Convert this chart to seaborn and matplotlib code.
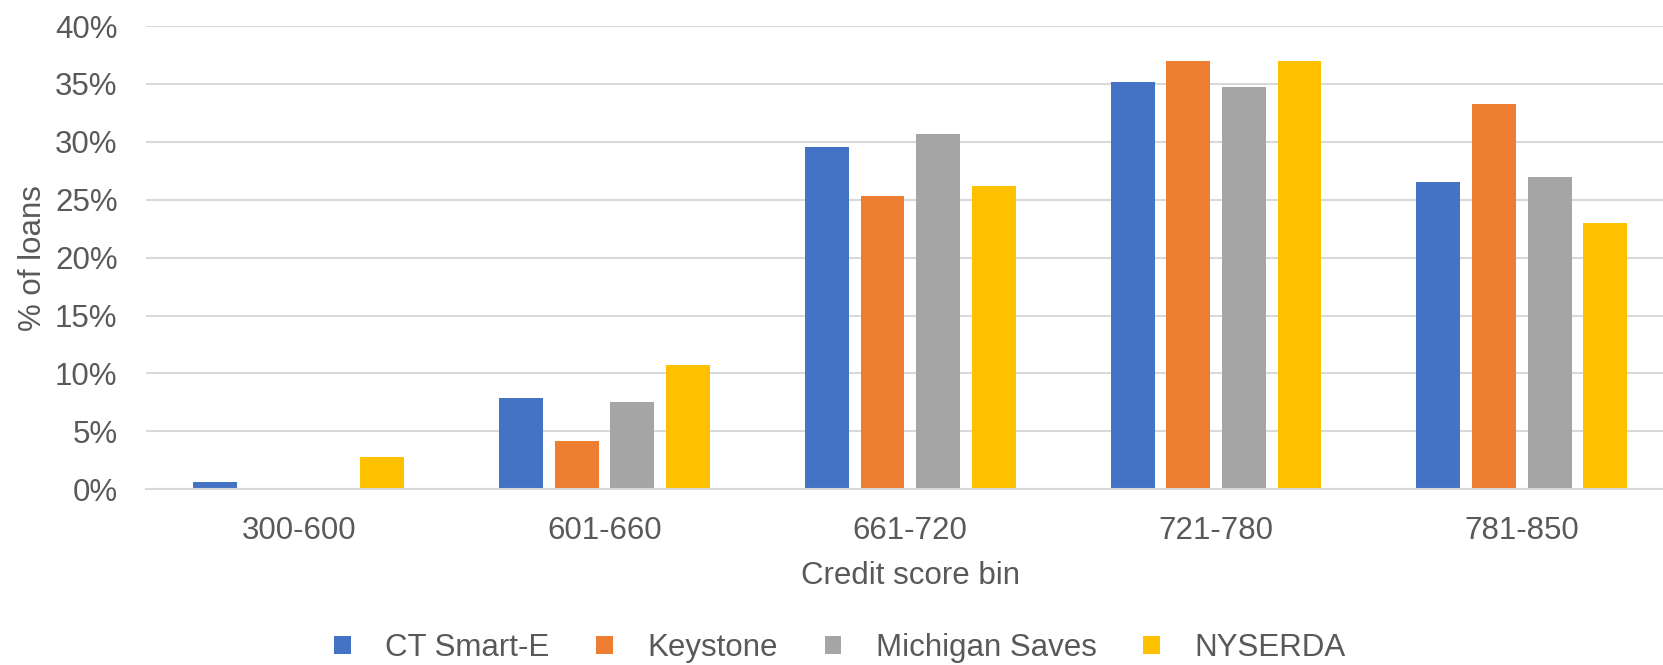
import matplotlib
matplotlib.use("Agg")
import matplotlib.pyplot as plt
from matplotlib.patches import Patch
from matplotlib.ticker import PercentFormatter
import seaborn as sns
import pandas as pd

# Share of loans (%) by credit score bin for each program
bins = ["300-600", "601-660", "661-720", "721-780", "781-850"]
programs = ["CT Smart-E", "Keystone", "Michigan Saves", "NYSERDA"]
ct_smart_e = [0.63, 7.88, 29.57, 35.17, 26.5]
keystone = [0.0, 4.17, 25.32, 37.0, 33.24]
michigan_saves = [0.0, 7.53, 30.66, 34.7, 26.95]
nyserda = [2.78, 10.75, 26.2, 37.0, 22.98]
colors = ["#4472C4", "#ED7D31", "#A5A5A5", "#FFC000"]

series = [ct_smart_e, keystone, michigan_saves, nyserda]
df = pd.DataFrame(
    [(b, p, v) for p, vals in zip(programs, series) for b, v in zip(bins, vals)],
    columns=["bin", "program", "pct"],
)

sns.set_theme(style="white")
plt.rcParams["font.family"] = ["Liberation Sans", "DejaVu Sans"]
text_color = "#595959"
grid_color = "#D9D9D9"
fs = 22.5

W, H = 1663, 665
fig = plt.figure(figsize=(W / 100, H / 100), dpi=100)
ax = fig.add_axes([146 / W, (H - 489.3) / H, (1674.6 - 146) / W, (489.3 - 26) / H])

sns.barplot(
    data=df, x="bin", y="pct", hue="program", order=bins, hue_order=programs,
    palette=colors, width=0.728, gap=0.21, saturation=1, ax=ax, legend=False,
    edgecolor="none",
)

ax.set_ylim(0, 40)
ax.set_xlim(-0.5, 4.5)
ax.set_yticks(range(0, 41, 5))
ax.yaxis.set_major_formatter(PercentFormatter(decimals=0))
ax.grid(axis="y", color=grid_color, linewidth=1.5)
ax.set_axisbelow(True)
for s in ["top", "right", "left"]:
    ax.spines[s].set_visible(False)
ax.spines["bottom"].set_color(grid_color)
ax.spines["bottom"].set_linewidth(1.5)

ax.tick_params(axis="y", length=0, pad=20.5, labelsize=fs, labelcolor=text_color)
ax.tick_params(axis="x", length=0, pad=19, labelsize=fs, labelcolor=text_color)
ax.set_xlabel("Credit score bin", fontsize=fs, color=text_color, labelpad=11)
ax.set_ylabel("% of loans", fontsize=fs, color=text_color, labelpad=5)

handles = [Patch(facecolor=c, edgecolor="none") for c in colors]
fig.legend(
    handles, programs, loc="center", bbox_to_anchor=(0.505, (H - 648) / H),
    ncol=4, frameon=False, fontsize=fs, labelcolor=text_color,
    handlelength=0.53, handleheight=0.5, handletextpad=1.1, columnspacing=1.5,
)

fig.savefig("out.png", dpi=100)
